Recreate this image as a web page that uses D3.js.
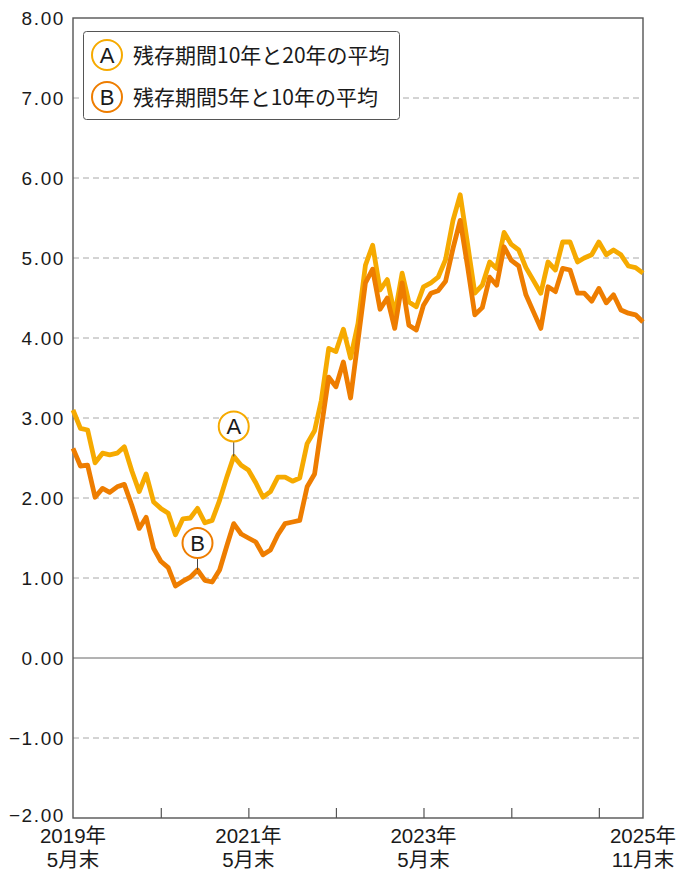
<!DOCTYPE html>
<html lang="ja">
<head>
<meta charset="utf-8">
<script src="https://cdn.jsdelivr.net/npm/d3@7/dist/d3.min.js"></script>
<style>
  html, body { margin: 0; padding: 0; background: #fff; }
  svg { display: block; }
  .tick-y { font-family: "Liberation Sans", "Noto Sans CJK JP", sans-serif; font-size: 19px; fill: #1a1a1a; letter-spacing: 1.6px; }
  .tick-x { font-family: "Liberation Sans", "Noto Sans CJK JP", sans-serif; font-size: 20.5px; fill: #1a1a1a; }
  .legend-text { font-family: "Noto Sans CJK JP", sans-serif; font-size: 21px; fill: #1a1a1a; }
  .badge-text { font-family: "Liberation Sans", "Noto Sans CJK JP", sans-serif; font-size: 22px; fill: #1a1a1a; }
</style>
</head>
<body>
<svg id="chart" width="677" height="871"></svg>
<script>
// Monthly series, May 2019 through November 2025
const startMonth = new Date(2019, 4, 1);
const endMonth = new Date(2025, 10, 1);
const months = d3.timeMonth.range(startMonth, d3.timeMonth.offset(endMonth, 1));

// 残存期間10年と20年の平均
const seriesA = [
  3.10, 2.87, 2.85, 2.44, 2.56, 2.54, 2.56, 2.64, 2.34, 2.08,
  2.30, 1.95, 1.87, 1.81, 1.54, 1.74, 1.75, 1.87, 1.69, 1.72,
  1.97, 2.27, 2.52, 2.41, 2.35, 2.19, 2.01, 2.08, 2.26, 2.26,
  2.21, 2.25, 2.68, 2.84, 3.22, 3.87, 3.83, 4.11, 3.75, 4.18,
  4.91, 5.16, 4.60, 4.73, 4.29, 4.81, 4.45, 4.39, 4.64, 4.69,
  4.76, 4.98, 5.47, 5.79, 5.17, 4.56, 4.66, 4.95, 4.87, 5.32,
  5.17, 5.10, 4.88, 4.72, 4.56, 4.95, 4.85, 5.20, 5.20, 4.95,
  5.00, 5.04, 5.20, 5.04, 5.10, 5.04, 4.90, 4.88, 4.81
];

// 残存期間5年と10年の平均
const seriesB = [
  2.62, 2.40, 2.41, 2.01, 2.12, 2.07, 2.14, 2.17, 1.91, 1.62,
  1.76, 1.37, 1.21, 1.13, 0.90, 0.96, 1.01, 1.10, 0.97, 0.95,
  1.10, 1.41, 1.68, 1.55, 1.50, 1.45, 1.29, 1.35, 1.54, 1.68,
  1.70, 1.72, 2.14, 2.30, 2.88, 3.51, 3.39, 3.70, 3.25, 3.97,
  4.69, 4.86, 4.36, 4.50, 4.12, 4.69, 4.16, 4.10, 4.41, 4.56,
  4.59, 4.71, 5.12, 5.47, 4.89, 4.29, 4.38, 4.76, 4.66, 5.14,
  4.97, 4.90, 4.54, 4.33, 4.12, 4.64, 4.58, 4.87, 4.85, 4.56,
  4.56, 4.46, 4.62, 4.44, 4.54, 4.35, 4.31, 4.29, 4.20
];

const yTicks = [-2, -1, 0, 1, 2, 3, 4, 5, 6, 7, 8];
const xLabelDates = [new Date(2019, 4, 1), new Date(2021, 4, 1), new Date(2023, 4, 1), new Date(2025, 10, 1)];
const xLabelLines = [["2019年", "5月末"], ["2021年", "5月末"], ["2023年", "5月末"], ["2025年", "11月末"]];
const xTickDates = [new Date(2020, 4, 1), new Date(2021, 4, 1), new Date(2022, 4, 1), new Date(2023, 4, 1), new Date(2024, 4, 1), new Date(2025, 4, 1)];

const legendLabels = ["残存期間10年と20年の平均", "残存期間5年と10年の平均"];
const badgeLetters = ["A", "B"];
const colors = ["#f6aa00", "#ee7d00"];
// month index each badge points to, and how far above the point its centre sits
const badgeIndex = [22, 17];
const badgeLift = [30, 27];
const badgeR = 15;

const svg = d3.select("#chart");
const plotL = 73, plotR = 643, plotT = 18, plotB = 818;

const x = d3.scaleTime().domain([startMonth, endMonth]).range([plotL, plotR]);
const y = d3.scaleLinear().domain([-2, 8]).range([plotB, plotT]);

// grid lines
svg.append("g")
  .selectAll("line")
  .data(yTicks.filter(v => v !== 0 && v !== 8 && v !== -2))
  .join("line")
  .attr("x1", plotL).attr("x2", plotR)
  .attr("y1", d => y(d)).attr("y2", d => y(d))
  .attr("stroke", "#a8a8a8")
  .attr("stroke-width", 1)
  .attr("stroke-dasharray", "6,4");

// zero line
svg.append("line")
  .attr("x1", plotL).attr("x2", plotR)
  .attr("y1", y(0)).attr("y2", y(0))
  .attr("stroke", "#666").attr("stroke-width", 1);

// y axis labels
const yAxis = d3.axisLeft(y).tickValues(yTicks).tickFormat(d3.format(".2f")).tickSize(0).tickPadding(8);
const gy = svg.append("g").attr("transform", `translate(${plotL},0)`).call(yAxis);
gy.select(".domain").remove();
gy.selectAll("text").attr("class", "tick-y")
  .attr("dy", d => d === -2 ? "0.2em" : "0.36em")
  .attr("font-family", null).attr("font-size", null).attr("fill", null);
gy.attr("font-family", null).attr("font-size", null);

// bottom axis ticks (inward)
const xAxis = d3.axisTop(x).tickValues(xTickDates).tickSize(10).tickFormat("");
const gx = svg.append("g").attr("transform", `translate(0,${plotB})`).call(xAxis);
gx.select(".domain").remove();
gx.selectAll("line").attr("stroke", "#555").attr("stroke-width", 1.2);

// frame
svg.append("rect")
  .attr("x", plotL).attr("y", plotT)
  .attr("width", plotR - plotL).attr("height", plotB - plotT)
  .attr("fill", "none").attr("stroke", "#555").attr("stroke-width", 1.4);

// x labels
const xl = svg.append("g");
xLabelDates.forEach((d, i) => {
  const t = xl.append("text").attr("class", "tick-x")
    .attr("x", x(d)).attr("text-anchor", "middle");
  xLabelLines[i].forEach((line, j) => {
    t.append("tspan").attr("x", x(d)).attr("y", 843 + j * 24).text(line);
  });
});

// lines
const line = d3.line()
  .x((d, i) => x(months[i]))
  .y(d => y(d))
  .curve(d3.curveLinear);

[seriesA, seriesB].forEach((s, k) => {
  svg.append("path")
    .datum(s)
    .attr("d", line)
    .attr("fill", "none")
    .attr("stroke", colors[k])
    .attr("stroke-width", 4.8)
    .attr("stroke-linejoin", "round")
    .attr("stroke-linecap", "butt");
});

// badges pointing at the series
const series = [seriesA, seriesB];
badgeIndex.forEach((idx, k) => {
  const px = x(months[idx]);
  const py = y(series[k][idx]);
  const cy = py - badgeLift[k];
  svg.append("line")
    .attr("x1", px).attr("x2", px)
    .attr("y1", py).attr("y2", cy + badgeR)
    .attr("stroke", "#444").attr("stroke-width", 1);
  svg.append("circle")
    .attr("cx", px).attr("cy", cy).attr("r", badgeR)
    .attr("fill", "#fff").attr("stroke", colors[k]).attr("stroke-width", 2);
  svg.append("text").attr("class", "badge-text")
    .attr("x", px).attr("y", cy).attr("dy", "0.36em")
    .attr("text-anchor", "middle").text(badgeLetters[k]);
});

// legend
const lg = svg.append("g");
lg.append("rect")
  .attr("x", 83.5).attr("y", 31.5).attr("width", 316).attr("height", 88)
  .attr("rx", 3).attr("fill", "#fff").attr("stroke", "#555").attr("stroke-width", 1);
legendLabels.forEach((label, k) => {
  const cy = 55 + k * 42;
  lg.append("circle").attr("cx", 107).attr("cy", cy).attr("r", badgeR)
    .attr("fill", "#fff").attr("stroke", colors[k]).attr("stroke-width", 2);
  lg.append("text").attr("class", "badge-text")
    .attr("x", 107).attr("y", cy).attr("dy", "0.36em")
    .attr("text-anchor", "middle").text(badgeLetters[k]);
  lg.append("text").attr("class", "legend-text")
    .attr("x", 133).attr("y", cy).attr("dy", "0.36em")
    .text(label);
});
</script>
</body>
</html>
